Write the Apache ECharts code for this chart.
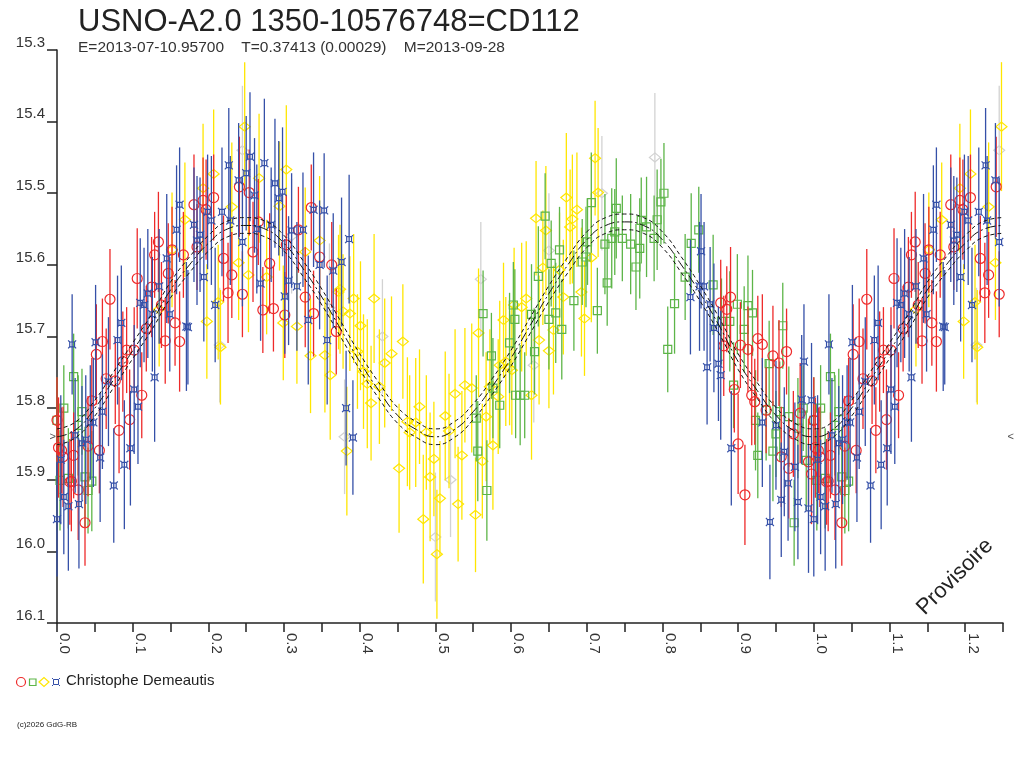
<!DOCTYPE html>
<html lang="fr">
<head>
<meta charset="UTF-8">
<style>
  html, body { height: 100%; margin: 0; background: #fff; }
</style>
</head>
<body>
<div id="chart" style="width:1024px;height:768px;"></div>
<script src="https://cdn.jsdelivr.net/npm/echarts@6/dist/echarts.min.js"></script>
<script>
// [phase, magnitude, error], phase 0..1 (0..0.25 is repeated after 1)
var redPts = [
  [0.000,15.817,0.06],[0.002,15.855,0.07],[0.006,15.859,0.06],[0.008,15.868,0.07],[0.017,15.903,0.06],
  [0.019,15.902,0.07],[0.022,15.866,0.06],[0.028,15.914,0.07],[0.037,15.960,0.06],[0.041,15.853,0.07],
  [0.046,15.790,0.06],[0.052,15.725,0.07],[0.056,15.859,0.06],[0.060,15.707,0.06],[0.065,15.759,0.07],
  [0.070,15.648,0.07],[0.077,15.762,0.06],[0.082,15.831,0.06],[0.087,15.735,0.07],[0.092,15.719,0.06],
  [0.096,15.816,0.07],[0.102,15.719,0.06],[0.106,15.619,0.07],[0.112,15.782,0.06],[0.118,15.689,0.06],
  [0.125,15.631,0.07],[0.129,15.586,0.06],[0.134,15.568,0.07],[0.138,15.656,0.06],[0.143,15.706,0.06],
  [0.147,15.612,0.07],[0.152,15.579,0.06],[0.156,15.681,0.06],[0.162,15.707,0.07],[0.167,15.586,0.06],
  [0.181,15.516,0.07],[0.185,15.575,0.06],[0.193,15.510,0.06],[0.197,15.523,0.07],[0.207,15.506,0.06],
  [0.220,15.591,0.06],[0.226,15.639,0.07],[0.231,15.614,0.06],[0.241,15.491,0.07],[0.245,15.641,0.06],
  [0.254,15.499,0.06],[0.259,15.582,0.07],[0.266,15.540,0.06],[0.272,15.663,0.06],[0.281,15.598,0.07],
  [0.286,15.661,0.06],[0.301,15.670,0.06],[0.303,15.572,0.07],[0.319,15.551,0.06],[0.328,15.645,0.07],
  [0.336,15.520,0.06],[0.339,15.668,0.06],[0.347,15.589,0.07],[0.363,15.600,0.06],[0.369,15.693,0.06],
  [0.877,15.653,0.06],[0.881,15.713,0.07],[0.885,15.662,0.06],[0.890,15.645,0.07],[0.895,15.774,0.06],
  [0.900,15.850,0.07],[0.903,15.712,0.06],[0.909,15.921,0.07],[0.913,15.718,0.06],[0.918,15.782,0.07],
  [0.922,15.791,0.06],[0.926,15.703,0.06],[0.932,15.711,0.07],[0.937,15.803,0.06],[0.946,15.727,0.07],
  [0.954,15.737,0.06],[0.957,15.868,0.07],[0.964,15.721,0.06],[0.967,15.884,0.07],[0.973,15.836,0.06],
  [0.982,15.807,0.07],[0.993,15.875,0.06],[0.997,15.892,0.07]
];
var bluePts = [
  [0.000,15.955,0.08],[0.005,15.872,0.09],[0.009,15.924,0.08],[0.015,15.937,0.09],[0.020,15.711,0.07],
  [0.024,15.838,0.08],[0.029,15.934,0.09],[0.033,15.849,0.08],[0.038,15.844,0.09],[0.044,15.820,0.08],
  [0.048,15.820,0.09],[0.051,15.708,0.08],[0.057,15.869,0.09],[0.060,15.805,0.08],[0.068,15.763,0.09],
  [0.075,15.908,0.08],[0.080,15.705,0.09],[0.085,15.681,0.08],[0.089,15.879,0.09],[0.097,15.856,0.08],
  [0.102,15.774,0.09],[0.107,15.798,0.08],[0.110,15.653,0.09],[0.115,15.656,0.08],[0.120,15.640,0.09],
  [0.126,15.669,0.08],[0.129,15.757,0.09],[0.135,15.630,0.08],[0.145,15.591,0.09],[0.149,15.669,0.08],
  [0.158,15.551,0.09],[0.162,15.516,0.08],[0.171,15.686,0.09],[0.173,15.687,0.08],[0.181,15.544,0.08],
  [0.185,15.566,0.09],[0.189,15.558,0.08],[0.194,15.617,0.09],[0.199,15.526,0.08],[0.204,15.538,0.09],
  [0.209,15.656,0.08],[0.218,15.526,0.09],[0.227,15.461,0.08],[0.229,15.538,0.09],[0.240,15.482,0.08],
  [0.245,15.568,0.09],[0.250,15.472,0.08],[0.255,15.449,0.09],[0.261,15.503,0.08],[0.264,15.550,0.09],
  [0.269,15.626,0.08],[0.274,15.458,0.09],[0.283,15.544,0.08],[0.288,15.486,0.09],[0.293,15.507,0.08],
  [0.298,15.498,0.09],[0.301,15.644,0.08],[0.306,15.622,0.09],[0.310,15.552,0.08],[0.317,15.630,0.09],
  [0.325,15.551,0.08],[0.332,15.677,0.09],[0.339,15.523,0.08],[0.347,15.600,0.09],[0.353,15.524,0.08],
  [0.357,15.705,0.09],[0.365,15.608,0.08],[0.376,15.596,0.09],[0.382,15.800,0.08],[0.386,15.564,0.09],
  [0.391,15.841,0.08],
  [0.837,15.645,0.08],[0.849,15.630,0.09],[0.851,15.581,0.08],[0.855,15.630,0.09],[0.859,15.743,0.08],
  [0.863,15.655,0.08],[0.868,15.688,0.09],[0.874,15.738,0.08],[0.877,15.754,0.09],[0.891,15.856,0.08],
  [0.932,15.820,0.09],[0.942,15.959,0.08],[0.950,15.824,0.09],[0.957,15.928,0.08],[0.961,15.861,0.09],
  [0.966,15.905,0.08],[0.975,15.882,0.09],[0.979,15.931,0.08],[0.984,15.788,0.09],[0.987,15.735,0.08],
  [0.993,15.940,0.09],[0.997,15.789,0.08]
];
var yellowPts = [
  [0.135,15.662,0.08],[0.152,15.579,0.08],[0.169,15.537,0.08],[0.193,15.493,0.09],[0.198,15.679,0.08],
  [0.207,15.473,0.09],[0.213,15.652,0.08],[0.216,15.715,0.08],[0.231,15.519,0.09],[0.240,15.597,0.08],
  [0.248,15.407,0.09],[0.253,15.614,0.08],[0.267,15.479,0.09],[0.277,15.617,0.08],[0.294,15.518,0.09],
  [0.299,15.681,0.08],[0.303,15.467,0.09],[0.317,15.686,0.08],[0.328,15.582,0.09],[0.335,15.727,0.08],
  [0.347,15.566,0.09],[0.354,15.726,0.08],[0.361,15.754,0.09],[0.372,15.638,0.08],[0.374,15.634,0.09],
  [0.378,15.665,0.08],[0.383,15.860,0.09],[0.387,15.668,0.08],[0.392,15.647,0.09],[0.397,15.721,0.08],
  [0.401,15.685,0.09],[0.405,15.749,0.08],[0.410,15.766,0.09],[0.415,15.793,0.08],[0.419,15.647,0.09],
  [0.426,15.770,0.08],[0.433,15.737,0.09],[0.442,15.724,0.08],[0.452,15.884,0.09],[0.457,15.707,0.08],
  [0.463,15.819,0.09],[0.466,15.834,0.08],[0.474,15.820,0.09],[0.479,15.798,0.08],[0.484,15.955,0.09],
  [0.488,15.834,0.08],[0.493,15.896,0.09],[0.498,15.871,0.08],[0.502,16.004,0.09],[0.506,15.926,0.08],
  [0.513,15.811,0.09],[0.518,15.832,0.08],[0.526,15.780,0.09],[0.530,15.934,0.08],[0.535,15.866,0.09],
  [0.539,15.768,0.08],[0.548,15.772,0.09],[0.553,15.949,0.08],[0.557,15.695,0.09],[0.562,15.874,0.08],
  [0.567,15.812,0.09],[0.572,15.770,0.08],[0.576,15.852,0.09],[0.583,15.784,0.08],[0.585,15.740,0.09],
  [0.590,15.677,0.08],[0.593,15.735,0.09],[0.598,15.744,0.08],[0.601,15.747,0.09],[0.604,15.656,0.08],
  [0.614,15.659,0.09],[0.620,15.647,0.08],[0.627,15.782,0.09],[0.633,15.535,0.08],[0.637,15.705,0.09],
  [0.642,15.604,0.08],[0.646,15.552,0.09],[0.650,15.720,0.08],[0.656,15.691,0.09],[0.664,15.607,0.08],
  [0.669,15.645,0.08],[0.673,15.506,0.09],[0.678,15.547,0.08],[0.681,15.536,0.09],[0.687,15.523,0.08],
  [0.693,15.638,0.09],[0.697,15.675,0.08],[0.706,15.590,0.09],[0.711,15.451,0.08],[0.715,15.499,0.09]
];
var greenPts = [
  [0.000,15.817,0.06],[0.004,15.901,0.07],[0.009,15.800,0.06],[0.015,15.898,0.07],[0.022,15.756,0.06],
  [0.028,15.824,0.07],[0.033,15.805,0.06],[0.037,15.896,0.07],[0.041,15.915,0.06],[0.046,15.902,0.07],
  [0.554,15.814,0.06],[0.556,15.860,0.07],[0.563,15.668,0.06],[0.568,15.915,0.07],[0.574,15.727,0.06],
  [0.576,15.772,0.07],[0.585,15.796,0.06],[0.598,15.709,0.07],[0.603,15.656,0.06],[0.605,15.676,0.07],
  [0.606,15.782,0.06],[0.612,15.782,0.07],[0.618,15.782,0.06],[0.627,15.669,0.07],[0.631,15.721,0.06],
  [0.636,15.616,0.07],[0.645,15.532,0.06],[0.650,15.676,0.07],[0.653,15.598,0.06],[0.659,15.667,0.07],
  [0.664,15.579,0.06],[0.667,15.690,0.07],[0.683,15.650,0.07],[0.694,15.596,0.06],[0.699,15.589,0.07],
  [0.701,15.568,0.06],[0.706,15.513,0.07],[0.714,15.664,0.06],[0.724,15.571,0.07],[0.727,15.625,0.06],
  [0.733,15.563,0.07],[0.737,15.554,0.06],[0.739,15.521,0.07],[0.747,15.563,0.06],[0.758,15.571,0.07],
  [0.765,15.603,0.06],[0.770,15.577,0.07],[0.772,15.538,0.06],[0.779,15.547,0.07],[0.789,15.563,0.06],
  [0.793,15.537,0.07],[0.798,15.512,0.06],[0.802,15.500,0.07],[0.807,15.718,0.06],[0.816,15.654,0.07],
  [0.830,15.617,0.06],[0.838,15.570,0.07],[0.848,15.551,0.06],[0.867,15.628,0.07],[0.878,15.679,0.06],
  [0.889,15.679,0.07],[0.894,15.768,0.06],[0.899,15.655,0.07],[0.908,15.690,0.06],[0.913,15.657,0.07],
  [0.919,15.667,0.06],[0.923,15.817,0.07],[0.926,15.866,0.06],[0.937,15.803,0.07],[0.941,15.738,0.06],
  [0.946,15.860,0.07],[0.950,15.836,0.06],[0.955,15.805,0.07],[0.959,15.685,0.06],[0.967,15.812,0.07],
  [0.974,15.960,0.06],[0.979,15.828,0.07],[0.986,15.800,0.06],[0.990,15.873,0.07]
];
var grayPts = [
  [0.215,15.712,0.08],[0.245,15.440,0.09],[0.310,15.560,0.08],[0.360,15.660,0.09],[0.380,15.840,0.08],
  [0.430,15.700,0.08],[0.500,15.980,0.09],[0.520,15.900,0.08],[0.560,15.620,0.08],[0.630,15.740,0.08],
  [0.650,15.580,0.08],[0.720,15.500,0.08],[0.790,15.450,0.09]
];

// fitted light curve and its envelope
var modelPhase = [0,0.025,0.05,0.075,0.1,0.125,0.15,0.175,0.2,0.225,0.25,0.275,0.3,0.325,0.35,0.375,0.4,
  0.425,0.45,0.475,0.5,0.525,0.55,0.575,0.6,0.625,0.65,0.675,0.7,0.725,0.75,0.775,0.8,0.825,0.85,0.875,
  0.9,0.925,0.95,0.975,1.0];
var modelMag = [15.84,15.83,15.80,15.76,15.72,15.68,15.635,15.60,15.57,15.55,15.545,15.55,15.57,15.605,
  15.645,15.69,15.735,15.775,15.81,15.83,15.84,15.83,15.805,15.77,15.73,15.685,15.64,15.60,15.565,15.545,
  15.54,15.545,15.565,15.60,15.64,15.685,15.735,15.775,15.81,15.832,15.84];
var modelHi = [15.829,15.819,15.789,15.749,15.709,15.669,15.624,15.589,15.559,15.539,15.534,15.539,15.559,
  15.594,15.634,15.679,15.724,15.764,15.799,15.819,15.829,15.819,15.794,15.759,15.719,15.674,15.629,15.589,
  15.554,15.534,15.529,15.534,15.554,15.589,15.629,15.674,15.724,15.764,15.799,15.821,15.829];
var modelLo = [15.851,15.841,15.811,15.771,15.731,15.691,15.646,15.611,15.581,15.561,15.556,15.561,15.581,
  15.616,15.656,15.701,15.746,15.786,15.821,15.841,15.851,15.841,15.816,15.781,15.741,15.696,15.651,15.611,
  15.576,15.556,15.551,15.556,15.576,15.611,15.651,15.696,15.746,15.786,15.821,15.843,15.851];

var xRange = [0, 1.25];
var yRange = [15.3, 16.1];
var minMark = 15.84;

var FONT = '"Liberation Sans", Arial, sans-serif';
var RED = '#ee2a2a', GREEN = '#5db548', YELLOW = '#ffe600', BLUE = '#3550a8', GRAY = '#d2d2d2';

// phases below 0.25 are drawn a second time after 1.0
function fold(pts) {
  return pts.concat(pts.filter(function (p) { return p[0] < 0.25; })
    .map(function (p) { return [p[0] + 1, p[1], p[2]]; }));
}
function foldCurve(mags) {
  var out = [];
  for (var i = 0; i < modelPhase.length; i++) out.push([modelPhase[i], mags[i]]);
  for (var j = 1; j < modelPhase.length && modelPhase[j] <= 0.25; j++) out.push([modelPhase[j] + 1, mags[j]]);
  return out;
}

var BLUE_SYMBOL = 'path://M2,2L8,2L8,8L2,8Z M0,0L2,2 M10,0L8,2 M0,10L2,8 M10,10L8,8';

function bars(pts, color, z) {
  return {
    type: 'custom', silent: true, z: z, data: fold(pts), encode: { x: 0, y: 1 },
    renderItem: function (params, api) {
      var a = api.coord([api.value(0), api.value(1) - api.value(2)]);
      var b = api.coord([api.value(0), api.value(1) + api.value(2)]);
      return { type: 'line', shape: { x1: a[0], y1: a[1], x2: b[0], y2: b[1] },
        style: { stroke: color, lineWidth: 1.3 } };
    }
  };
}
function marks(pts, color, symbol, size, z) {
  return {
    type: 'scatter', silent: true, z: z, data: fold(pts), symbol: symbol, symbolSize: size,
    itemStyle: { color: 'rgba(0,0,0,0)', borderColor: color, borderWidth: 1.2, opacity: 1 }
  };
}
function curve(mags, dash) {
  return {
    type: 'line', silent: true, z: 20, data: foldCurve(mags), smooth: true, showSymbol: false,
    lineStyle: { color: '#111', width: 1, type: dash }
  };
}

var myChart = echarts.init(document.getElementById('chart'));
myChart.setOption({
  animation: false,
  backgroundColor: '#fff',
  textStyle: { fontFamily: FONT },
  title: {
    text: 'USNO-A2.0 1350-10576748=CD112',
    subtext: 'E=2013-07-10.95700    T=0.37413 (0.00029)    M=2013-09-28',
    left: 73, top: 2, itemGap: 2,
    textStyle: { fontSize: 31, fontWeight: 'normal', color: '#222', fontFamily: FONT },
    subtextStyle: { fontSize: 15.5, color: '#333', fontFamily: FONT }
  },
  grid: { left: 57, right: 21, top: 50, bottom: 145 },
  xAxis: {
    type: 'value', min: xRange[0], max: xRange[1], interval: 0.05,
    splitLine: { show: false },
    axisLine: { lineStyle: { color: '#222', width: 1.5 } },
    axisTick: { length: 9, lineStyle: { color: '#222', width: 1.5 } },
    axisLabel: {
      rotate: -90, margin: 10, fontSize: 15, color: '#333', verticalAlign: 'bottom',
      formatter: function (v) { return Math.round(v * 100) % 10 === 0 ? v.toFixed(1) : ''; }
    }
  },
  yAxis: {
    type: 'value', inverse: true, min: yRange[0], max: yRange[1], interval: 0.1,
    splitLine: { show: false },
    axisLine: { show: true, lineStyle: { color: '#222', width: 1.5 } },
    axisTick: { length: 10, lineStyle: { color: '#222', width: 1.5 } },
    axisLabel: {
      margin: 12, fontSize: 15, color: '#333', verticalAlign: 'bottom',
      formatter: function (v) { return v.toFixed(1); }
    }
  },
  series: [
    bars(grayPts, GRAY, 1), marks(grayPts, GRAY, 'diamond', [11, 9], 2),
    bars(yellowPts, YELLOW, 3), marks(yellowPts, YELLOW, 'diamond', [11, 9], 4),
    bars(greenPts, GREEN, 5), marks(greenPts, GREEN, 'rect', 8, 6),
    bars(redPts, RED, 7), marks(redPts, RED, 'circle', 10, 8),
    bars(bluePts, BLUE, 9), marks(bluePts, BLUE, BLUE_SYMBOL, 8, 10),
    curve(modelHi, [4, 3]), curve(modelMag, [10, 3, 2, 3]), curve(modelLo, [4, 3]),
    {
      type: 'scatter', silent: true, symbolSize: 0, z: 21,
      data: [[xRange[0], minMark], [xRange[1], minMark]],
      label: {
        show: true, fontSize: 11, color: '#222', distance: 1,
        formatter: function (p) { return p.dataIndex === 0 ? '>' : '<'; },
        position: 'left'
      },
      labelLayout: function (p) { return p.dataIndex === 1 ? { dx: 12 } : {}; }
    }
  ],
  graphic: [
    { type: 'circle', shape: { cx: 21, cy: 682, r: 4.5 }, style: { fill: 'none', stroke: RED, lineWidth: 1.2 } },
    { type: 'rect', shape: { x: 29.5, y: 679, width: 6.5, height: 6.5 }, style: { fill: 'none', stroke: GREEN, lineWidth: 1.2 } },
    { type: 'polygon', shape: { points: [[39, 682], [44, 677.5], [49, 682], [44, 686.5]] }, style: { fill: 'none', stroke: YELLOW, lineWidth: 1.2 } },
    { type: 'rect', shape: { x: 53.5, y: 679.5, width: 5, height: 5 }, style: { fill: 'none', stroke: BLUE, lineWidth: 1 } },
    { type: 'line', shape: { x1: 52, y1: 678, x2: 53.5, y2: 679.5 }, style: { stroke: BLUE, lineWidth: 1 } },
    { type: 'line', shape: { x1: 60, y1: 678, x2: 58.5, y2: 679.5 }, style: { stroke: BLUE, lineWidth: 1 } },
    { type: 'line', shape: { x1: 52, y1: 686, x2: 53.5, y2: 684.5 }, style: { stroke: BLUE, lineWidth: 1 } },
    { type: 'line', shape: { x1: 60, y1: 686, x2: 58.5, y2: 684.5 }, style: { stroke: BLUE, lineWidth: 1 } },
    { type: 'text', left: 66, top: 673, style: { text: 'Christophe Demeautis', fill: '#222', font: '15px ' + FONT } },
    { type: 'text', left: 17, top: 721, style: { text: '(c)2026 GdG-RB', fill: '#222', font: '8px ' + FONT } },
    { type: 'text', x: 955, y: 577, rotation: Math.PI / 4,
      style: { text: 'Provisoire', fill: '#222', font: '22px ' + FONT, textAlign: 'center', textVerticalAlign: 'middle' } }
  ]
});
</script>
</body>
</html>
